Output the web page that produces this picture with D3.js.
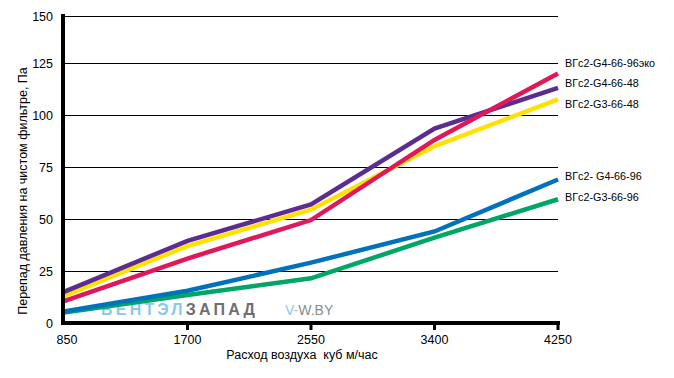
<!DOCTYPE html>
<html>
<head>
<meta charset="utf-8">
<script src="https://cdn.jsdelivr.net/npm/d3@7.9.0/dist/d3.min.js"></script>
<style>
  body { margin: 0; background: #fff; }
  svg { display: block; font-family: "Liberation Sans", Arial, sans-serif; }
</style>
</head>
<body>
<svg id="chart" width="674" height="378"></svg>
<script>
// airflow points, m3/h
const airflow = [850, 1700, 2550, 3400, 4250];
const yTicks = [0, 25, 50, 75, 100, 125, 150];

// pressure drop, Pa
const g3_66_96 = [5, 13.5, 21.5, 41, 59.5];
const g4_66_96 = [5.5, 15.5, 29, 44, 69];
const g3_66_48 = [13, 37, 54.5, 85, 107.5];
const g4_66_48 = [15, 39.5, 57, 93.5, 113];
const g4_66_96eko = [10.5, 31, 49.5, 88, 120];

const seriesNames = ['ВГс2-G3-66-96', 'ВГс2- G4-66-96', 'ВГс2-G3-66-48', 'ВГс2-G4-66-48', 'ВГс2-G4-66-96эко'];
const seriesValues = [g3_66_96, g4_66_96, g3_66_48, g4_66_48, g4_66_96eko];
const seriesColors = ['#00a665', '#0072bc', '#ffe100', '#5c2d91', '#e0185a'];

// legend labels, top to bottom
const legendNames = ['ВГс2-G4-66-96эко', 'ВГс2-G4-66-48', 'ВГс2-G3-66-48', 'ВГс2- G4-66-96', 'ВГс2-G3-66-96'];

const svg = d3.select('#chart');

const x = d3.scaleLinear().domain([850, 4250]).range([64, 558]);
const y = d3.scaleLinear().domain([0, 125, 150]).range([323, 63, 16]);

// grid
svg.append('g')
  .selectAll('line')
  .data(yTicks.filter(d => d > 0))
  .join('line')
  .attr('x1', 64).attr('x2', 558)
  .attr('y1', d => Math.round(y(d)) + 0.5).attr('y2', d => Math.round(y(d)) + 0.5)
  .attr('stroke', '#000').attr('stroke-width', 1);

// watermark
const wm = svg.append('text')
  .attr('x', 101).attr('y', 315)
  .attr('font-size', 16).attr('font-weight', 'bold')
  .attr('letter-spacing', 3.2);
wm.append('tspan').attr('fill', '#8cc8ec').text('ВЕНТЭЛ');
wm.append('tspan').attr('fill', '#6d6e71').text('ЗАПАД');
const wm2 = svg.append('text')
  .attr('x', 285).attr('y', 315)
  .attr('font-size', 14);
wm2.append('tspan').attr('fill', '#8cc8ec').text('V-');
wm2.append('tspan').attr('fill', '#8a8c8f').text('W.BY');

// lines
const line = d3.line()
  .x((d, i) => x(airflow[i]))
  .y(d => y(d));

svg.append('g')
  .selectAll('path')
  .data(seriesValues)
  .join('path')
  .attr('d', d => line(d))
  .attr('fill', 'none')
  .attr('stroke', (d, i) => seriesColors[i])
  .attr('stroke-width', 4.5)
  .attr('stroke-linejoin', 'miter');

// axes
svg.append('line')
  .attr('x1', 63).attr('x2', 63).attr('y1', 14).attr('y2', 325)
  .attr('stroke', '#000').attr('stroke-width', 4);
svg.append('line')
  .attr('x1', 61).attr('x2', 560).attr('y1', 323).attr('y2', 323)
  .attr('stroke', '#000').attr('stroke-width', 4);

svg.append('g')
  .selectAll('line')
  .data(airflow.slice(1))
  .join('line')
  .attr('x1', d => x(d)).attr('x2', d => x(d))
  .attr('y1', 323).attr('y2', 330)
  .attr('stroke', '#000').attr('stroke-width', 3);

// tick labels
svg.append('g')
  .selectAll('text')
  .data(yTicks)
  .join('text')
  .attr('x', 53)
  .attr('y', d => y(d) + 4.5)
  .attr('text-anchor', 'end')
  .attr('font-size', 12.5)
  .text(d => d);

svg.append('g')
  .selectAll('text')
  .data(airflow)
  .join('text')
  .attr('x', d => x(d) + (d === 850 ? 3 : 0))
  .attr('y', 344)
  .attr('text-anchor', 'middle')
  .attr('font-size', 12.5)
  .text(d => d);

// axis titles
svg.append('text')
  .attr('transform', 'translate(27,191) rotate(-90)')
  .attr('text-anchor', 'middle')
  .attr('font-size', 12.5)
  .text('Перепад давления на чистом фильтре, Па');

svg.append('text')
  .attr('x', 302).attr('y', 359)
  .attr('text-anchor', 'middle')
  .attr('font-size', 12.5)
  .style('white-space', 'pre')
  .text('Расход воздуха  куб м/час');

// legend labels
svg.append('g')
  .selectAll('text')
  .data(legendNames)
  .join('text')
  .attr('x', 565)
  .attr('y', (d, i) => [67, 87, 108, 180, 201][i])
  .attr('font-size', 10.8)
  .text(d => d);
</script>
</body>
</html>
